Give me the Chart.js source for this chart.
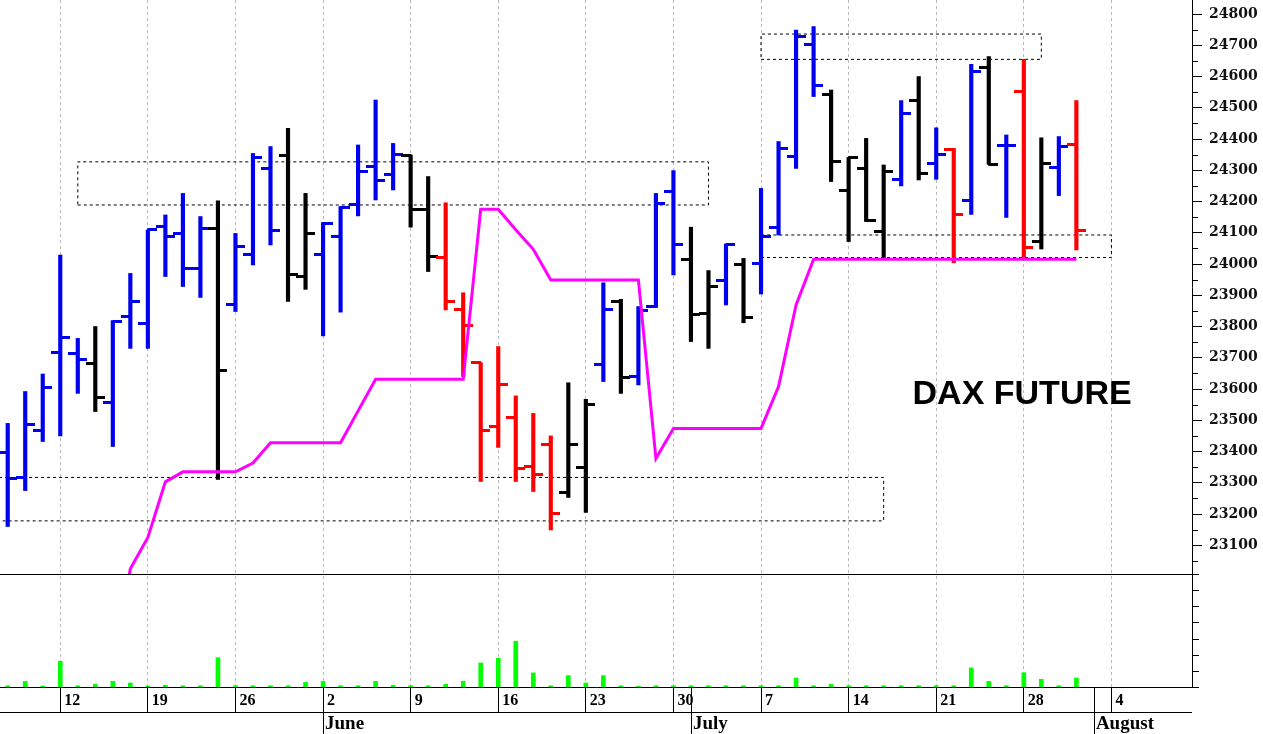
<!DOCTYPE html>
<html>
<head>
<meta charset="utf-8">
<script src="https://cdn.jsdelivr.net/npm/chart.js@4.4.1/dist/chart.umd.min.js"></script>
<style>
  html, body { margin: 0; padding: 0; background: #fff; }
</style>
</head>
<body>
<canvas id="daxChart" width="1263" height="734"></canvas>
<script>
// séances : 0 = lundi 12 mai 2025
const sessions = [-3, -2, -1, 0, 1, 2, 3, 4, 5, 6, 7, 8, 9, 10, 11, 12, 13, 14, 15, 16,
  17, 18, 19, 20, 21, 22, 23, 24, 25, 26, 27, 28, 29, 30, 31, 32, 33, 34, 35, 36, 37, 38,
  39, 40, 41, 42, 43, 44, 45, 46, 47, 48, 49, 50, 51, 52, 53, 54, 55, 56, 57, 58];

const opens = [23397, 23317, 23467, 23718, 23714, 23682, 23556, 23832, 23810, 24120, 24098, 23986,
  24114, 23869, 24029, 24306, 24346, 23960, 24029, 24088, 24189, 24312, 24288, 24346, 24173, 24021,
  23855, 23684, 23480, 23510, 23352, 23424, 23268, 23349, 23677, 23880, 23640, 23864, 24232, 24013,
  23842, 23947, 23997, 24002, 24117, 24344, 24701, 24541, 24235, 24306, 24104, 24272, 24522, 24322,
  24367, 24202, 24628, 24378, 24552, 24072, 24308, 24383];
const highs = [23490, 23592, 23648, 24029, 23762, 23800, 23819, 23970, 24109, 24157, 24226, 24152,
  24202, 24098, 24354, 24376, 24434, 24226, 24133, 24184, 24381, 24525, 24386, 24349, 24280, 24196,
  23908, 23684, 23736, 23578, 23522, 23450, 23620, 23567, 23940, 23887, 23864, 24226, 24299, 24118,
  23979, 24064, 24018, 24242, 24392, 24749, 24760, 24557, 24341, 24402, 24317, 24523, 24600, 24436,
  24370, 24639, 24664, 24413, 24655, 24404, 24408, 24523];
const lows = [23160, 23275, 23432, 23450, 23586, 23528, 23416, 23730, 23730, 23960, 23928, 23893,
  23311, 23848, 23997, 24061, 23880, 23919, 23770, 23846, 24154, 24205, 24237, 24118, 23976, 23853,
  23640, 23304, 23413, 23304, 23272, 23149, 23253, 23205, 23624, 23586, 23613, 23861, 23965, 23752,
  23730, 23869, 23812, 23904, 24093, 24306, 24536, 24264, 24072, 24136, 24021, 24250, 24269, 24271,
  24004, 24159, 24319, 24149, 24021, 24048, 24219, 24045];
const closes = [23314, 23485, 23604, 23765, 23693, 23572, 23815, 23880, 24109, 24088, 23986, 24114,
  23659, 24056, 24341, 24107, 23968, 24098, 24130, 24180, 24296, 24267, 24349, 24173, 24024, 23880,
  23802, 23467, 23613, 23346, 23325, 23202, 23421, 23552, 23855, 23637, 23851, 24194, 24064, 23837,
  23928, 24064, 23829, 24088, 24370, 24728, 24570, 24328, 24341, 24139, 24296, 24482, 24290, 24349,
  24159, 24616, 24320, 24378, 24052, 24322, 24376, 24107];
// b = bleu, k = noir, r = rouge
const barColors = ['b', 'b', 'b', 'b', 'b', 'k', 'b', 'b', 'b', 'b', 'b', 'b', 'k', 'b', 'b', 'b',
  'k', 'k', 'b', 'b', 'b', 'b', 'b', 'k', 'k', 'r', 'r', 'r', 'r', 'r', 'r', 'r', 'k', 'k', 'b', 'k',
  'b', 'b', 'b', 'k', 'k', 'b', 'k', 'b', 'b', 'b', 'b', 'k', 'k', 'k', 'k', 'b', 'k', 'b', 'r', 'b',
  'k', 'b', 'r', 'k', 'b', 'r'];

// stop suiveur (ligne magenta)
const trailStop = [null, null, null, null, null, null, 22700, 23025, 23125, 23303, 23335, 23335,
  23335, 23335, 23363, 23428, 23428, 23428, 23428, 23428, 23530, 23631, 23631, 23631, 23631, 23631,
  23631, 24175, 24175, 24110, 24047, 23949, 23949, 23949, 23949, 23949, 23949, 23378, 23474, 23474,
  23474, 23474, 23474, 23474, 23608, 23869, 24015, 24015, 24015, 24015, 24015, 24015, 24015, 24015,
  24015, 24015, 24015, 24015, 24015, 24015, 24015, 24015];

const volumes = [28300, 31000, 28100, 43600, 28300, 29200, 31000, 30000, 28100, 28600, 28300, 28300,
  45800, 28300, 28300, 28300, 28300, 30400, 31000, 28300, 28300, 31000, 28600, 28300, 28300, 29200,
  31000, 42500, 45400, 56100, 36300, 28300, 34600, 30000, 34600, 28300, 27900, 28300, 28300, 28300,
  28300, 28300, 28300, 28300, 28300, 33100, 28300, 29200, 28300, 28300, 28300, 28300, 28300, 28300,
  28300, 39400, 31000, 28300, 36400, 32300, 28300, 33100];

// zones en pointillés
const zoneFrom = [1, -5, 40, 40];
const zoneTo = [37, 47, 56, 60];
const zoneLow = [24189, 23178, 24655, 24021];
const zoneHigh = [24327, 23317, 24736, 24093];

const weekTicks = [0, 5, 10, 15, 20, 25, 30, 35, 40, 45, 50, 55, 60];
const weekLabels = ['12', '19', '26', '2', '9', '16', '23', '30', '7', '14', '21', '28', '4'];
const monthStarts = [15, 36, 59];
const monthLabels = ['June', 'July', 'August'];

const palette = { b: '#0000f0', k: '#000000', r: '#ff0000' };

function tickImg(color, left) {
  const c = document.createElement('canvas');
  c.width = 19; c.height = 3;
  const g = c.getContext('2d');
  g.fillStyle = color;
  g.fillRect(left ? 0 : 9, 0, 10, 3);
  return c;
}
const openImg = {}, closeImg = {};
for (const k in palette) {
  openImg[k] = tickImg(palette[k], true);
  closeImg[k] = tickImg(palette[k], false);
}

const zoneSets = zoneFrom.map((x0, i) => ({
  type: 'line',
  data: [
    { x: x0, y: zoneLow[i] }, { x: zoneTo[i], y: zoneLow[i] }, { x: zoneTo[i], y: zoneHigh[i] },
    { x: x0, y: zoneHigh[i] }, { x: x0, y: zoneLow[i] }
  ],
  yAxisID: 'y',
  borderColor: '#000',
  borderWidth: 1,
  borderDash: [3, 3],
  pointRadius: 0,
  tension: 0,
  order: 6
}));

function noPad(s) {
  s.paddingTop = 0; s.paddingBottom = 0; s.paddingLeft = 0; s.paddingRight = 0;
}

const decor = {
  id: 'decor',
  afterDraw(chart) {
    const { ctx, scales: { x, y, vol }, chartArea } = chart;
    ctx.save();
    ctx.strokeStyle = '#000';
    ctx.lineWidth = 1;

    // séparation prix / volume
    const sep = Math.round(y.bottom) + 0.5;
    ctx.beginPath();
    ctx.moveTo(chartArea.left, sep); ctx.lineTo(chartArea.right, sep);
    // ligne entre jours et mois
    const row = Math.round(x.top + 25) + 0.5;
    ctx.moveTo(x.left, row); ctx.lineTo(x.right, row);
    // séparateurs de mois
    monthStarts.forEach(m => {
      const px = Math.round(x.getPixelForValue(m)) + 0.5;
      ctx.moveTo(px, x.top); ctx.lineTo(px, x.bottom);
    });
    // petites graduations
    y.ticks.forEach(t => {
      if (t.value % 100 === 0) return;
      const py = Math.round(y.getPixelForValue(t.value)) + 0.5;
      ctx.moveTo(y.left, py); ctx.lineTo(y.left + 6, py);
    });
    vol.ticks.forEach(t => {
      if (t.value === 50000) return;
      const py = Math.round(vol.getPixelForValue(t.value)) + 0.5;
      ctx.moveTo(vol.left, py); ctx.lineTo(vol.left + 7, py);
    });
    ctx.stroke();

    ctx.fillStyle = '#000';
    ctx.textAlign = 'left';
    ctx.textBaseline = 'alphabetic';
    ctx.font = 'bold 16px "Liberation Serif"';
    weekTicks.forEach((w, i) => {
      ctx.fillText(weekLabels[i], x.getPixelForValue(w) + 4, x.top + 18);
    });
    ctx.font = 'bold 19px "Liberation Serif"';
    monthStarts.forEach((m, i) => {
      ctx.fillText(monthLabels[i], x.getPixelForValue(m) + 2, x.top + 42);
    });

    ctx.font = 'bold 34px "Liberation Sans"';
    ctx.fillText('DAX FUTURE', x.getPixelForValue(48.65), y.getPixelForValue(23552));
    ctx.restore();
  }
};

new Chart(document.getElementById('daxChart'), {
  type: 'bar',
  data: {
    datasets: [
      {
        type: 'line',
        data: sessions.map((s, i) => ({ x: s, y: trailStop[i] })),
        yAxisID: 'y',
        borderColor: '#ff00ff',
        borderWidth: 3,
        pointRadius: 0,
        tension: 0,
        clip: 0,
        order: 1
      },
      {
        type: 'scatter',
        data: sessions.map((s, i) => ({ x: s, y: opens[i] })),
        yAxisID: 'y',
        pointStyle: c => openImg[barColors[c.dataIndex]],
        pointRadius: 3,
        order: 2
      },
      {
        type: 'scatter',
        data: sessions.map((s, i) => ({ x: s, y: closes[i] })),
        yAxisID: 'y',
        pointStyle: c => closeImg[barColors[c.dataIndex]],
        pointRadius: 3,
        order: 2
      },
      {
        type: 'bar',
        data: sessions.map((s, i) => ({ x: s, y: [lows[i], highs[i]] })),
        yAxisID: 'y',
        backgroundColor: barColors.map(k => palette[k]),
        barThickness: 3.5,
        grouped: false,
        order: 3
      },
      {
        type: 'bar',
        data: sessions.map((s, i) => ({ x: s, y: volumes[i] })),
        yAxisID: 'vol',
        backgroundColor: '#00ff00',
        barThickness: 4,
        grouped: false,
        order: 4
      },
      ...zoneSets
    ]
  },
  options: {
    responsive: false,
    devicePixelRatio: 1,
    animation: false,
    events: [],
    layout: { padding: 0, autoPadding: false },
    plugins: { legend: { display: false }, tooltip: { enabled: false } },
    scales: {
      x: {
        type: 'linear',
        min: -3.44,
        max: 64.6,
        offset: false,
        afterFit: s => { s.height = 47; noPad(s); },
        afterBuildTicks: s => { s.ticks = weekTicks.map(v => ({ value: v })); },
        border: { display: true, color: '#000', width: 1, dash: [3, 3] },
        grid: {
          offset: false,
          color: '#b8b8b8',
          lineWidth: 1,
          drawTicks: true,
          tickLength: 25,
          tickColor: '#000',
          tickWidth: 1,
          tickBorderDash: []
        },
        ticks: { display: false }
      },
      y: {
        type: 'linear',
        position: 'right',
        stack: 'panes',
        stackWeight: 574,
        min: 23008,
        max: 24845,
        beginAtZero: false,
        afterFit: s => { s.width = 71; noPad(s); },
        border: { display: true, color: '#000', width: 1 },
        grid: {
          drawOnChartArea: false,
          tickLength: 10,
          tickWidth: 1,
          tickColor: c => (c.tick && c.tick.value % 100 === 0) ? '#000' : 'rgba(0,0,0,0)'
        },
        ticks: {
          stepSize: 50,
          includeBounds: false,
          autoSkip: false,
          padding: 7,
          color: '#111',
          font: { family: 'DejaVu Serif', weight: 'bold', size: 14 },
          callback: v => (v % 100 === 0 ? String(v) : '')
        }
      },
      vol: {
        type: 'linear',
        position: 'right',
        stack: 'panes',
        stackWeight: 113,
        min: 27500,
        max: 98100,
        beginAtZero: false,
        afterFit: s => { s.width = 71; noPad(s); },
        border: { display: true, color: '#000', width: 1 },
        grid: {
          drawOnChartArea: false,
          tickLength: 13,
          tickWidth: 1,
          tickColor: c => (c.tick && c.tick.value === 50000) ? '#000' : 'rgba(0,0,0,0)'
        },
        ticks: {
          stepSize: 10000,
          includeBounds: false,
          autoSkip: false,
          padding: 4,
          color: '#111',
          font: { family: 'DejaVu Sans', size: 14 },
          callback: v => (v === 50000 ? '50000' : '')
        }
      }
    }
  },
  plugins: [decor]
});
</script>
</body>
</html>
